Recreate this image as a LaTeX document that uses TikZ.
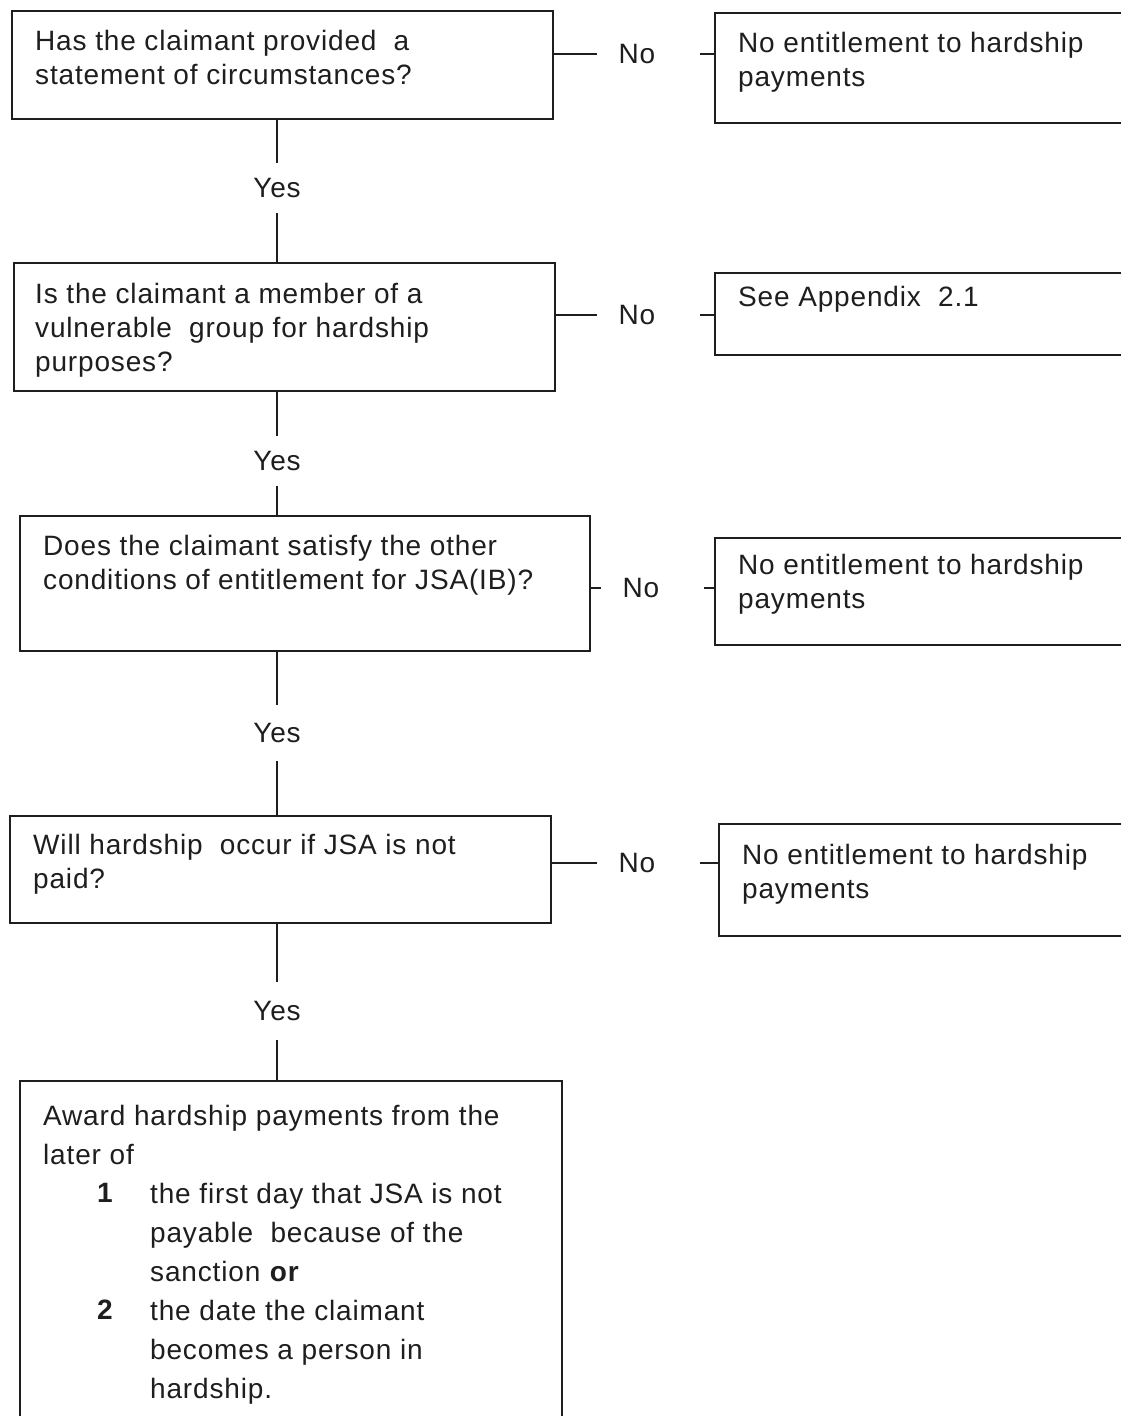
\documentclass[tikz,border=0pt]{standalone}
\usepackage{fontspec}
\setmainfont{Liberation Sans}[LetterSpace=3]
\definecolor{ink}{HTML}{1E1E1E}
\tikzset{
  box/.style={draw=ink, line width=1.7pt, anchor=north west, inner sep=0pt},
  txt/.style={anchor=north west, inner sep=0pt, align=left, text=ink, font=\fontsize{28}{34}\selectfont},
  bigtxt/.style={txt, font=\fontsize{28}{39}\selectfont},
  lbl/.style={inner sep=0pt, text=ink, font=\fontsize{28}{34}\selectfont},
  nolbl/.style={lbl, minimum width=80pt},
  conn/.style={line width=1.7pt, draw=ink},
}
\begin{document}
\begin{tikzpicture}[x=1pt, y=-1pt]
\clip (0,0) rectangle (1121,1416);
\fill[white] (0,0) rectangle (1121,1416);

% question boxes
\node[box, minimum width=541pt, minimum height=108pt] (q1) at (11,10) {};
\node[box, minimum width=541pt, minimum height=128pt] (q2) at (13,262) {};
\node[box, minimum width=570pt, minimum height=135pt] (q3) at (19,515) {};
\node[box, minimum width=541pt, minimum height=107pt] (q4) at (9,815) {};
\node[box, minimum width=542pt, minimum height=420pt] (q5) at (19,1080) {};

% result boxes (running off the right edge)
\node[box, minimum width=460pt, minimum height=110pt] (r1) at (714,12) {};
\node[box, minimum width=460pt, minimum height=82pt]  (r2) at (714,272) {};
\node[box, minimum width=460pt, minimum height=107pt] (r3) at (714,537) {};
\node[box, minimum width=460pt, minimum height=112pt] (r4) at (718,823) {};

% texts
\node[txt] (t1) at (35,30) {Has the claimant provided\ \ a\\statement of circumstances?};
\node[txt] (t2) at (35,283) {Is the claimant a member of a\\vulnerable\ \ group for hardship\\purposes?};
\node[txt] (t3) at (43,535) {Does the claimant satisfy the other\\conditions of entitlement for JSA(IB)?};
\node[txt] (t4) at (33,834) {Will hardship\ \ occur if JSA is not\\paid?};

\node[txt] (s1) at (738,32) {No entitlement to hardship\\payments};
\node[txt] (s2) at (738,286) {See Appendix\ \ 2.1};
\node[txt] (s3) at (738,554) {No entitlement to hardship\\payments};
\node[txt] (s4) at (742,844) {No entitlement to hardship\\payments};

\node[bigtxt] (a1) at (43,1105) {Award hardship payments from the\\later of};
\node[bigtxt] (n1num) at (97,1183) {\textbf{1}};
\node[bigtxt] (a2) at (150,1183) {the first day that JSA is not\\payable\ \ because of the\\sanction \textbf{or}};
\node[bigtxt] (n2num) at (97,1300) {\textbf{2}};
\node[bigtxt] (a3) at (150,1300) {the date the claimant\\becomes a person in\\hardship.};

% Yes labels
\node[lbl, minimum height=50pt] (y1) at (277,188) {Yes};
\node[lbl, minimum height=49pt] (y2) at (277,461) {Yes};
\node[lbl, minimum height=56pt] (y3) at (277,733) {Yes};
\node[lbl, minimum height=57pt] (y4) at (277,1011) {Yes};

% No labels
\node[nolbl] (n1) at (637,54) {No};
\node[nolbl] (n2) at (637,315) {No};
\node[nolbl] (n3) at (641,588) {No};
\node[nolbl] (n4) at (637,863) {No};

% vertical connectors
\draw[conn] (y1.north |- q1.south) -- (y1.north);
\draw[conn] (y1.south) -- (y1.south |- q2.north);
\draw[conn] (y2.north |- q2.south) -- (y2.north);
\draw[conn] (y2.south) -- (y2.south |- q3.north);
\draw[conn] (y3.north |- q3.south) -- (y3.north);
\draw[conn] (y3.south) -- (y3.south |- q4.north);
\draw[conn] (y4.north |- q4.south) -- (y4.north);
\draw[conn] (y4.south) -- (y4.south |- q5.north);

% horizontal connectors
\draw[conn] (q1.east |- n1) -- (n1.west);
\draw[conn, shorten <=23pt] (n1.east) -- (n1.east -| r1.west);
\draw[conn] (q2.east |- n2) -- (n2.west);
\draw[conn, shorten <=23pt] (n2.east) -- (n2.east -| r2.west);
\draw[conn] (q3.east |- n3) -- (n3.west);
\draw[conn, shorten <=23pt] (n3.east) -- (n3.east -| r3.west);
\draw[conn] (q4.east |- n4) -- (n4.west);
\draw[conn, shorten <=23pt] (n4.east) -- (n4.east -| r4.west);
\end{tikzpicture}
\end{document}
